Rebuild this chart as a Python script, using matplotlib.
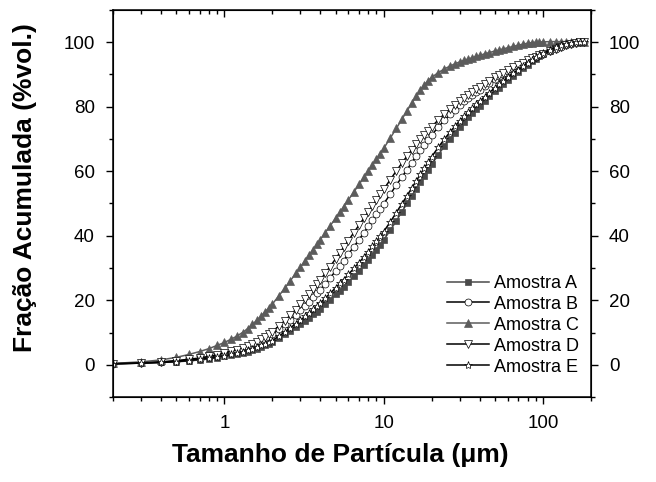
import matplotlib
matplotlib.use("Agg")
import matplotlib.pyplot as plt
from matplotlib.ticker import MultipleLocator, NullFormatter

plt.rcParams['font.family'] = ['Liberation Sans', 'DejaVu Sans']

# particle size grid (um)
size = [0.2, 0.3, 0.4, 0.5, 0.6, 0.7, 0.8, 0.9, 1.0,
        1.1, 1.2, 1.3, 1.4, 1.5, 1.6, 1.7, 1.8, 1.9, 2.0,
        2.2, 2.4, 2.6, 2.8, 3.0, 3.2, 3.4, 3.6, 3.8, 4.0,
        4.3, 4.6, 5.0, 5.3, 5.6, 6.0, 6.5, 7.0, 7.5, 8.0, 8.5, 9.0, 9.5, 10,
        11, 12, 13, 14, 15, 16, 17, 18, 19, 20,
        22, 24, 26, 28, 30, 32, 34, 36, 38, 40,
        43, 46, 50, 53, 56, 60, 65, 70, 75, 80, 85, 90, 95, 100,
        110, 120, 130, 140, 150, 160, 170, 180]

amostra_a = [0.3, 0.5, 0.7, 0.9, 1.2, 1.5, 1.8, 2.2, 2.6,
             2.9, 3.3, 3.7, 4.1, 4.5, 5.0, 5.5, 6.0, 6.5, 7.0,
             8.2, 9.4, 10.5, 11.6, 12.6, 13.6, 14.6, 15.6, 16.5, 17.4,
             18.8, 20.1, 21.8, 23.0, 24.2, 25.7, 27.5, 29.2, 30.9, 32.5, 34.1, 35.7, 37.2, 38.7,
             41.7, 44.6, 47.4, 50.0, 52.4, 54.6, 56.7, 58.6, 60.4, 62.1,
             65.1, 67.7, 70.0, 72.0, 73.7, 75.3, 76.7, 78.0, 79.2, 80.3,
             81.8, 83.2, 84.8, 85.9, 86.9, 88.2, 89.6, 90.8, 92.0, 93.1, 94.1, 94.9, 95.7, 96.3,
             97.4, 98.2, 98.9, 99.4, 99.7, 99.9, 100.0, 100.1]

amostra_b = [0.3, 0.5, 0.8, 1.1, 1.5, 1.9, 2.3, 2.7, 3.2,
             3.7, 4.2, 4.8, 5.4, 6.0, 6.6, 7.3, 8.0, 8.7, 9.4,
             11.0, 12.5, 14.0, 15.5, 17.0, 18.3, 19.6, 20.9, 22.1, 23.3,
             25.1, 26.9, 29.1, 30.7, 32.3, 34.3, 36.6, 38.8, 40.9, 42.9, 44.8, 46.6, 48.3, 49.9,
             52.9, 55.7, 58.2, 60.5, 62.7, 64.7, 66.5, 68.2, 69.8, 71.2,
             73.7, 75.8, 77.6, 79.1, 80.5, 81.7, 82.7, 83.7, 84.5, 85.3,
             86.4, 87.4, 88.6, 89.4, 90.1, 91.0, 92.0, 92.8, 93.6, 94.3, 94.9, 95.5, 96.0, 96.4,
             97.3, 98.0, 98.6, 99.1, 99.5, 99.8, 100.0, 100.1]

amostra_c = [0.4, 0.9, 1.5, 2.3, 3.2, 4.1, 5.0, 6.0, 6.9,
             7.9, 8.9, 10.0, 11.2, 12.5, 13.8, 15.1, 16.4, 17.6, 18.8,
             21.4, 23.8, 26.1, 28.3, 30.3, 32.2, 34.0, 35.7, 37.3, 38.8,
             41.0, 43.0, 45.5, 47.3, 49.0, 51.1, 53.6, 55.9, 58.1, 60.1, 62.0, 63.8, 65.5, 67.1,
             70.3, 73.3, 76.1, 78.7, 81.1, 83.3, 85.2, 86.8, 88.1, 89.1,
             90.6, 91.7, 92.6, 93.3, 93.9, 94.4, 94.8, 95.2, 95.6, 95.9,
             96.4, 96.8, 97.3, 97.6, 97.9, 98.3, 98.7, 99.1, 99.4, 99.7, 99.9, 100.0, 100.1, 100.1,
             100.2, 100.2, 100.2, 100.2, 100.2, 100.2, 100.2, 100.2]

amostra_d = [0.3, 0.6, 0.9, 1.3, 1.7, 2.1, 2.6, 3.1, 3.6,
             4.2, 4.7, 5.3, 5.9, 6.5, 7.2, 8.0, 8.7, 9.5, 10.3,
             12.0, 13.7, 15.4, 17.1, 18.7, 20.3, 21.9, 23.4, 24.9, 26.3,
             28.4, 30.4, 32.9, 34.7, 36.4, 38.5, 41.0, 43.3, 45.4, 47.4, 49.3, 51.1, 52.8, 54.4,
             57.4, 60.1, 62.5, 64.7, 66.6, 68.3, 69.9, 71.3, 72.6, 73.8,
             75.9, 77.7, 79.2, 80.5, 81.7, 82.7, 83.7, 84.6, 85.4, 86.1,
             87.1, 88.0, 89.1, 89.8, 90.5, 91.3, 92.2, 93.0, 93.7, 94.4, 95.0, 95.5, 96.0, 96.4,
             97.2, 97.9, 98.5, 99.0, 99.5, 99.8, 100.0, 100.1]

amostra_e = [0.3, 0.5, 0.7, 1.0, 1.3, 1.7, 2.0, 2.4, 2.8,
             3.2, 3.6, 4.0, 4.5, 5.0, 5.5, 6.0, 6.5, 7.0, 7.5,
             8.9, 10.2, 11.5, 12.7, 13.8, 15.0, 16.1, 17.2, 18.2, 19.2,
             20.7, 22.1, 23.9, 25.2, 26.4, 28.0, 29.9, 31.7, 33.4, 35.1, 36.7, 38.3, 39.8, 41.3,
             44.3, 47.2, 49.9, 52.4, 54.8, 57.0, 59.1, 61.0, 62.8, 64.5,
             67.4, 69.9, 72.1, 74.0, 75.6, 77.1, 78.4, 79.6, 80.7, 81.7,
             83.1, 84.4, 85.9, 86.9, 87.9, 89.1, 90.4, 91.5, 92.6, 93.6, 94.5, 95.3, 96.0, 96.6,
             97.6, 98.4, 99.0, 99.5, 99.8, 100.0, 100.1, 100.2]

series = [
    ("Amostra A", amostra_a, dict(color='#4a4a4a', marker='s', mfc='#4a4a4a', mec='#4a4a4a', ms=5.0)),
    ("Amostra B", amostra_b, dict(color='black', marker='o', mfc='white', mec='black', ms=5.0)),
    ("Amostra C", amostra_c, dict(color='#5c5c5c', marker='^', mfc='#5c5c5c', mec='#5c5c5c', ms=6.0)),
    ("Amostra D", amostra_d, dict(color='black', marker='v', mfc='white', mec='black', ms=5.2)),
    ("Amostra E", amostra_e, dict(color='black', marker='*', mfc='white', mec='black', ms=6.0)),
]

fig = plt.figure(figsize=(6.56, 4.82), dpi=100)
ax = fig.add_axes([113/656, 1 - 397/482, (591 - 113)/656, (397 - 10)/482])

for name, vals, st in series:
    ax.plot(size, vals, lw=1.1, mew=0.5, label=name, **st)

ax.set_xscale('log')
ax.set_xlim(0.2, 200)
ax.set_ylim(-10, 110)
ax.yaxis.set_major_locator(MultipleLocator(20))
ax.yaxis.set_minor_locator(MultipleLocator(10))
ax.set_xticks([1, 10, 100])
ax.set_xticklabels(['1', '10', '100'])

for s in ax.spines.values():
    s.set_linewidth(1.1)

ax.tick_params(axis='both', which='major', direction='out', length=5, width=1.0,
               labelsize=13.5, top=False, right=True, labelright=True)
ax.tick_params(axis='both', which='minor', direction='out', length=3, width=1.0,
               top=False, right=True)
ax.tick_params(axis='y', which='major', pad=8)
ax.tick_params(axis='x', which='major', pad=8)

top = ax.twiny()
top.set_xscale('log')
top.set_xlim(ax.get_xlim())
top.set_xticks([1, 10, 100])
top.xaxis.set_major_formatter(NullFormatter())
top.xaxis.set_minor_formatter(NullFormatter())
top.tick_params(axis='x', which='major', direction='in', length=5, width=1.0)
top.tick_params(axis='x', which='minor', direction='in', length=3, width=1.0)

ax.set_xlabel('Tamanho de Partícula (μm)', fontsize=19, fontweight='bold')
ax.set_ylabel('Fração Acumulada (%vol.)', fontsize=19, fontweight='bold')
ax.xaxis.set_label_coords(0.475, -0.118)
ax.yaxis.set_label_coords(-0.16, 0.54)

ax.legend(loc='lower right', bbox_to_anchor=(0.975, 0.055), frameon=False, fontsize=13,
          handlelength=2.3, labelspacing=0.22, handletextpad=0.3, borderpad=0,
          borderaxespad=0)

fig.savefig('out.png', dpi=100)
